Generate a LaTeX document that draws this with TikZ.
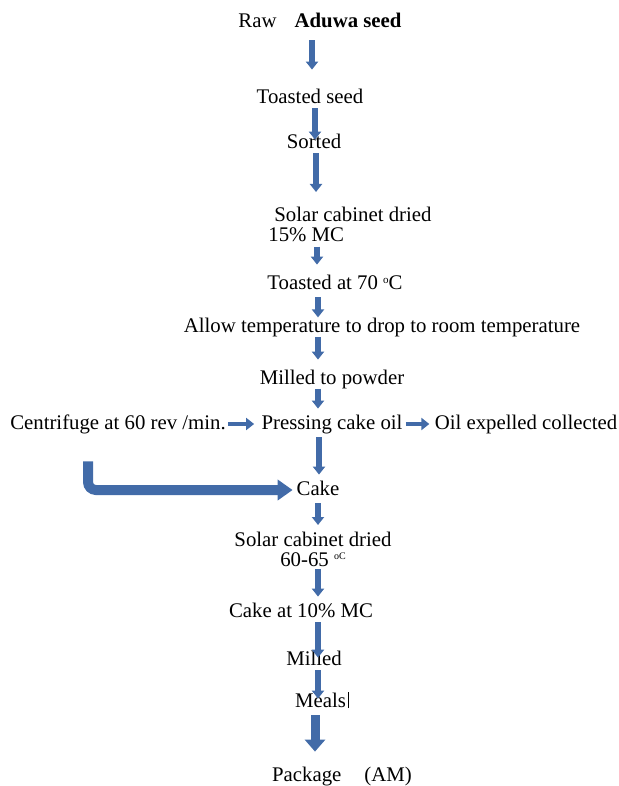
\documentclass[tikz,border=0pt]{standalone}
\usepackage{fontspec}
\setmainfont{Liberation Serif}
\usetikzlibrary{arrows.meta}
\definecolor{flowblue}{RGB}{66,107,168}

\begin{document}
\begin{tikzpicture}
        [x = 0.5pt, y = -0.5pt,
            > = {Triangle[width=6pt, length=4pt]},
            flow/.style = {->, draw=flowblue, line width=3pt},
            big flow/.style = {-{Triangle[width=10pt, length=7.5pt]}, draw=flowblue, line width=5pt},
            px gap/.style 2 args = {shorten <=#1*0.5pt, shorten >=#2*0.5pt},
            stage node/.style = {inner sep=0pt, font=\fontsize{10.4}{10}\selectfont, text height=7.2pt, text depth=2pt},
            stage block/.style = {inner sep=0pt, font=\fontsize{10.4}{10}\selectfont}]

        \useasboundingbox (0,0) rectangle (618,786);

        \node[stage node] (raw) at (320,22) {Raw\hspace{9pt}\textbf{Aduwa seed}};
        \node[stage node] (toast) at (310,98) {Toasted seed};
        \node[stage node] (sorted) at (314,143) {Sorted};
        \node[stage block, align=left, anchor=north west] (solar) at (268,207) {\hspace*{3pt}Solar cabinet dried\\15\% MC};
        \node[stage node] (warm) at (335,284) {Toasted at 70 \raisebox{3pt}{\fontsize{5.5}{5.5}\selectfont o}C};
        \node[stage node] (cool) at (382,327) {Allow temperature to drop to room temperature};
        \node[stage node] (powder) at (332,379) {Milled to powder};
        \node[stage node] (spin) at (118,424) {Centrifuge at 60 rev /min.};
        \node[stage node] (press) at (332,424) {Pressing cake oil};
        \node[stage node] (oil) at (526,424) {Oil expelled collected};
        \node[stage node] (cake) at (318,490) {Cake};
        \node[stage block, align=center, anchor=north] (redry) at (313,532) {Solar cabinet dried\\60-65 \raisebox{3.5pt}{\fontsize{5}{5}\selectfont oC}};
        \node[stage node] (dried) at (301,612) {Cake at 10\% MC};
        \node[stage node] (mill) at (314,660) {Milled};
        \node[stage node] (meal) at (322,702) {Meals\hspace{1pt}\rule[-0.5pt]{0.5pt}{8pt}};
        \node[stage node] (pack) at (342,776) {Package\hspace{11.5pt}(AM)};

        \draw[flow, px gap={8.8}{18.8}] (raw.south -| 312,0) -- (toast.north -| 312,0);
        \draw[flow, px gap={0.8}{-6.2}] (toast.south -| 315,0) -- (sorted.north -| 315,0);
        \draw[flow, px gap={0.8}{15}] (sorted.south -| 316,0) -- (solar.north -| 316,0);
        \draw[flow, px gap={4}{9.8}] (solar.south -| 317,0) -- (warm.north -| 317,0);
        \draw[flow, px gap={3.8}{0}] (warm.south -| 318,0) -- (cool.north -| 318,0);
        \draw[flow, px gap={0.8}{9.8}] (cool.south -| 318,0) -- (powder.north -| 318,0);
        \draw[flow, px gap={0}{5.8}] (powder.south -| 318,0) -- (press.north -| 318,0);
        \draw[flow, line width=2pt, px gap={2}{7}] (spin) -- (press);
        \draw[flow, line width=2pt, px gap={3}{5}] (press) -- (oil);
        \draw[flow, px gap={3.8}{5.8}] (press.south -| 319,0) -- (cake.north -| 319,0);
        \draw[big flow, rounded corners=4pt, px gap={27.8}{3.6}] (spin.south -| 88,0) |- (cake.west);
        \draw[flow, px gap={3.8}{7}] (cake.south -| 318,0) -- (redry.north -| 318,0);
        \draw[flow, px gap={1.8}{5.8}] (redry.south -| 318,0) -- (dried.north -| 318,0);
        \draw[flow, px gap={0.8}{-7.2}] (dried.south -| 318,0) -- (mill.north -| 318,0);
        \draw[flow, px gap={0.8}{-6.2}] (mill.south -| 318,0) -- (meal.north -| 318,0);
        \draw[big flow, line width=4.5pt, -{Triangle[width=10pt, length=6pt]}, px gap={3.8}{14.8}] (meal.south -| 315,0) -- (pack.north -| 315,0);
    \end{tikzpicture}
\end{document}
